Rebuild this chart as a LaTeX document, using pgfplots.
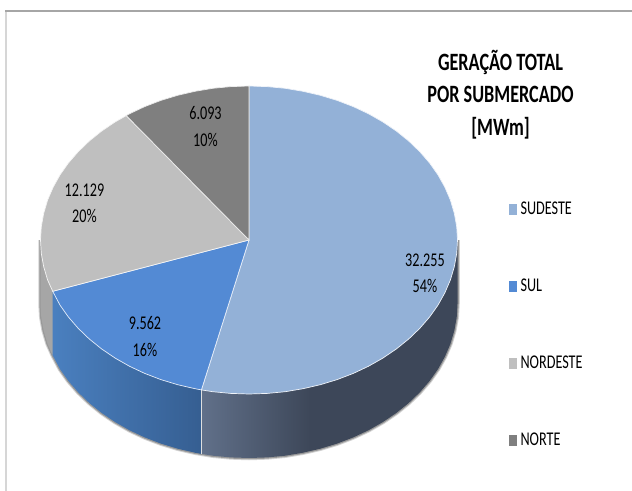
\documentclass[border=0pt]{standalone}
\usepackage{fontspec}
\setmainfont[FakeStretch=0.73]{Carlito}
\usepackage{pgfplots}
\pgfplotsset{compat=1.18}

\definecolor{sudeste}{HTML}{93B1D7}
\definecolor{sul}{HTML}{538AD4}
\definecolor{nordeste}{HTML}{BFBFBF}
\definecolor{norte}{HTML}{7F7F7F}
\pgfdeclarehorizontalshading{sudesteside}{100bp}{rgb(0bp)=(0.38,0.44,0.54); rgb(25bp)=(0.38,0.44,0.54); rgb(46bp)=(0.24,0.28,0.35); rgb(100bp)=(0.24,0.28,0.35)}
\pgfdeclarehorizontalshading{sulside}{100bp}{rgb(0bp)=(0.29,0.50,0.75); rgb(25bp)=(0.29,0.50,0.75); rgb(75bp)=(0.21,0.37,0.57); rgb(100bp)=(0.21,0.37,0.57)}

\tikzset{datalabel/.style={align=center, inner sep=0pt, font=\fontsize{19.5}{26.5}\selectfont}}

\begin{document}
\begin{tikzpicture}
\path[use as bounding box] (0,0) rectangle (632bp,491bp);
\begin{axis}[
  width=632bp, height=491bp, scale only axis,
  xmin=0, xmax=632, ymin=0, ymax=491, y dir=reverse,
  hide axis, clip=false,
  legend style={at={(0.8045,0.589)}, anchor=north west, draw=none, fill=none,
    inner sep=0pt, row sep=63bp, font=\fontsize{19.5}{23}\selectfont,
    nodes={inner xsep=4.5bp, inner ysep=0pt}},
  legend cell align=left,
]
% legend
\addlegendimage{legend image code/.code={\fill[sudeste] (0bp,-5bp) rectangle (7bp,5bp);}}
\addlegendentry{SUDESTE}
\addlegendimage{legend image code/.code={\fill[sul] (0bp,-5bp) rectangle (7bp,5bp);}}
\addlegendentry{SUL}
\addlegendimage{legend image code/.code={\fill[nordeste] (0bp,-5bp) rectangle (7bp,5bp);}}
\addlegendentry{NORDESTE}
\addlegendimage{legend image code/.code={\fill[norte] (0bp,-5bp) rectangle (7bp,5bp);}}
\addlegendentry{NORTE}

% frame
\addplot[forget plot, color={rgb,255:red,214;green,214;blue,214}, line width=2bp] coordinates {(6,11)(6,491)};
\addplot[forget plot, color={rgb,255:red,166;green,166;blue,166}, line width=2bp] coordinates {(5,11)(632,11)};

% soft shadow round the lower rim
\addplot[forget plot, color=gray!35, line width=4.5bp] coordinates {(457.5,240)(457.5,304)(456.7,317.4)(454.3,330.7)(450.4,343.9)(444.9,356.7)(438,369.1)(429.6,381)(419.8,392.3)(408.7,403)(396.4,412.9)(383,422)(368.6,430.2)(353.3,437.4)(337.1,443.6)(320.3,448.7)(303,452.7)(285.2,455.7)(267.2,457.4)(249,458)(230.8,457.4)(212.8,455.7)(195,452.7)(177.7,448.7)(160.9,443.6)(144.7,437.4)(129.4,430.2)(115,422)(101.6,412.9)(89.3,403)(78.2,392.3)(68.4,381)(60,369.1)(52.7,355.3)(47.6,343.9)(43.7,330.7)(41.3,317.4)(40.5,304)(40.5,240)};
\addplot[forget plot, color=gray!80, line width=2.5bp] coordinates {(457.5,240)(457.5,304)(456.7,317.4)(454.3,330.7)(450.4,343.9)(444.9,356.7)(438,369.1)(429.6,381)(419.8,392.3)(408.7,403)(396.4,412.9)(383,422)(368.6,430.2)(353.3,437.4)(337.1,443.6)(320.3,448.7)(303,452.7)(285.2,455.7)(267.2,457.4)(249,458)(230.8,457.4)(212.8,455.7)(195,452.7)(177.7,448.7)(160.9,443.6)(144.7,437.4)(129.4,430.2)(115,422)(101.6,412.9)(89.3,403)(78.2,392.3)(68.4,381)(60,369.1)(52.7,355.3)(47.6,343.9)(43.7,330.7)(41.3,317.4)(40.5,304)(40.5,240)};

% side walls
\addplot[forget plot, draw=none, shading=sudesteside] coordinates {(201.4,389.9)(201.4,453.9)(212.8,455.7)(230.8,457.4)(249,458)(267.2,457.4)(285.2,455.7)(303,452.7)(320.3,448.7)(337.1,443.6)(353.3,437.4)(368.6,430.2)(383,422)(396.4,412.9)(408.7,403)(419.8,392.3)(429.6,381)(438,369.1)(444.9,356.7)(450.4,343.9)(454.3,330.7)(456.7,317.4)(457.5,304)(457.5,240)} -- cycle;
\addplot[forget plot, draw=none, shading=sulside] coordinates {(52.7,291.3)(52.7,355.3)(60,369.1)(68.4,381)(78.2,392.3)(89.3,403)(101.6,412.9)(115,422)(129.4,430.2)(144.7,437.4)(160.9,443.6)(177.7,448.7)(195,452.7)(201.4,453.9)(201.4,389.9)} -- cycle;
\addplot[forget plot, draw=none, fill={rgb,255:red,166;green,166;blue,166}] coordinates {(40.5,240)(40.5,304)(41.3,317.4)(43.7,330.7)(47.6,343.9)(52.7,355.3)(52.7,291.3)} -- cycle;
\addplot[forget plot, color=white!75!gray, line width=0.6bp] coordinates {(201.4,389.9)(201.4,453.9)};

% top faces
\addplot[forget plot, fill=sudeste, draw=white!85!sudeste, line width=0.7bp] coordinates {(249,240)(249,86)(267.2,86.6)(285.2,88.3)(303,91.3)(320.3,95.3)(337.1,100.4)(353.3,106.6)(368.6,113.8)(383,122)(396.4,131.1)(408.7,141)(419.8,151.7)(429.6,163)(438,174.9)(444.9,187.3)(450.4,200.1)(454.3,213.3)(456.7,226.6)(457.5,240)(456.7,253.4)(454.3,266.7)(450.4,279.9)(444.9,292.7)(438,305.1)(429.6,317)(419.8,328.3)(408.7,339)(396.4,348.9)(383,358)(368.6,366.2)(353.3,373.4)(337.1,379.6)(320.3,384.7)(303,388.7)(285.2,391.7)(267.2,393.4)(249,394)(230.8,393.4)(212.8,391.7)(201.4,389.9)} -- cycle;
\addplot[forget plot, fill=sul, draw=white!85!sul, line width=0.7bp] coordinates {(249,240)(201.4,389.9)(195,388.7)(177.7,384.7)(160.9,379.6)(144.7,373.4)(129.4,366.2)(115,358)(101.6,348.9)(89.3,339)(78.2,328.3)(68.4,317)(60,305.1)(52.7,291.3)} -- cycle;
\addplot[forget plot, fill=nordeste, draw=white!85!nordeste, line width=0.7bp] coordinates {(249,240)(52.7,291.3)(47.6,279.9)(43.7,266.7)(41.3,253.4)(40.5,240)(41.3,226.6)(43.7,213.3)(47.6,200.1)(53.1,187.3)(60,174.9)(68.4,163)(78.2,151.7)(89.3,141)(101.6,131.1)(115,122)(126.2,115.6)} -- cycle;
\addplot[forget plot, fill=norte, draw=white!85!norte, line width=0.7bp] coordinates {(249,240)(126.2,115.6)(129.4,113.8)(144.7,106.6)(160.9,100.4)(177.7,95.3)(195,91.3)(212.8,88.3)(230.8,86.6)(249,86)} -- cycle;

% data labels
\node[datalabel] at (axis cs:425,273) {32.255\\54\%};
\node[datalabel] at (axis cs:145,336.5) {9.562\\16\%};
\node[datalabel] at (axis cs:84.5,203.5) {12.129\\20\%};
\node[datalabel] at (axis cs:205.5,126.5) {6.093\\10\%};

% title
\node[align=center, inner sep=0pt, font=\bfseries\fontsize{25}{32.5}\selectfont] at (axis cs:500.5,94.5) {GERAÇÃO TOTAL\\POR SUBMERCADO\\{[MWm]}};
\end{axis}
\end{tikzpicture}
\end{document}
